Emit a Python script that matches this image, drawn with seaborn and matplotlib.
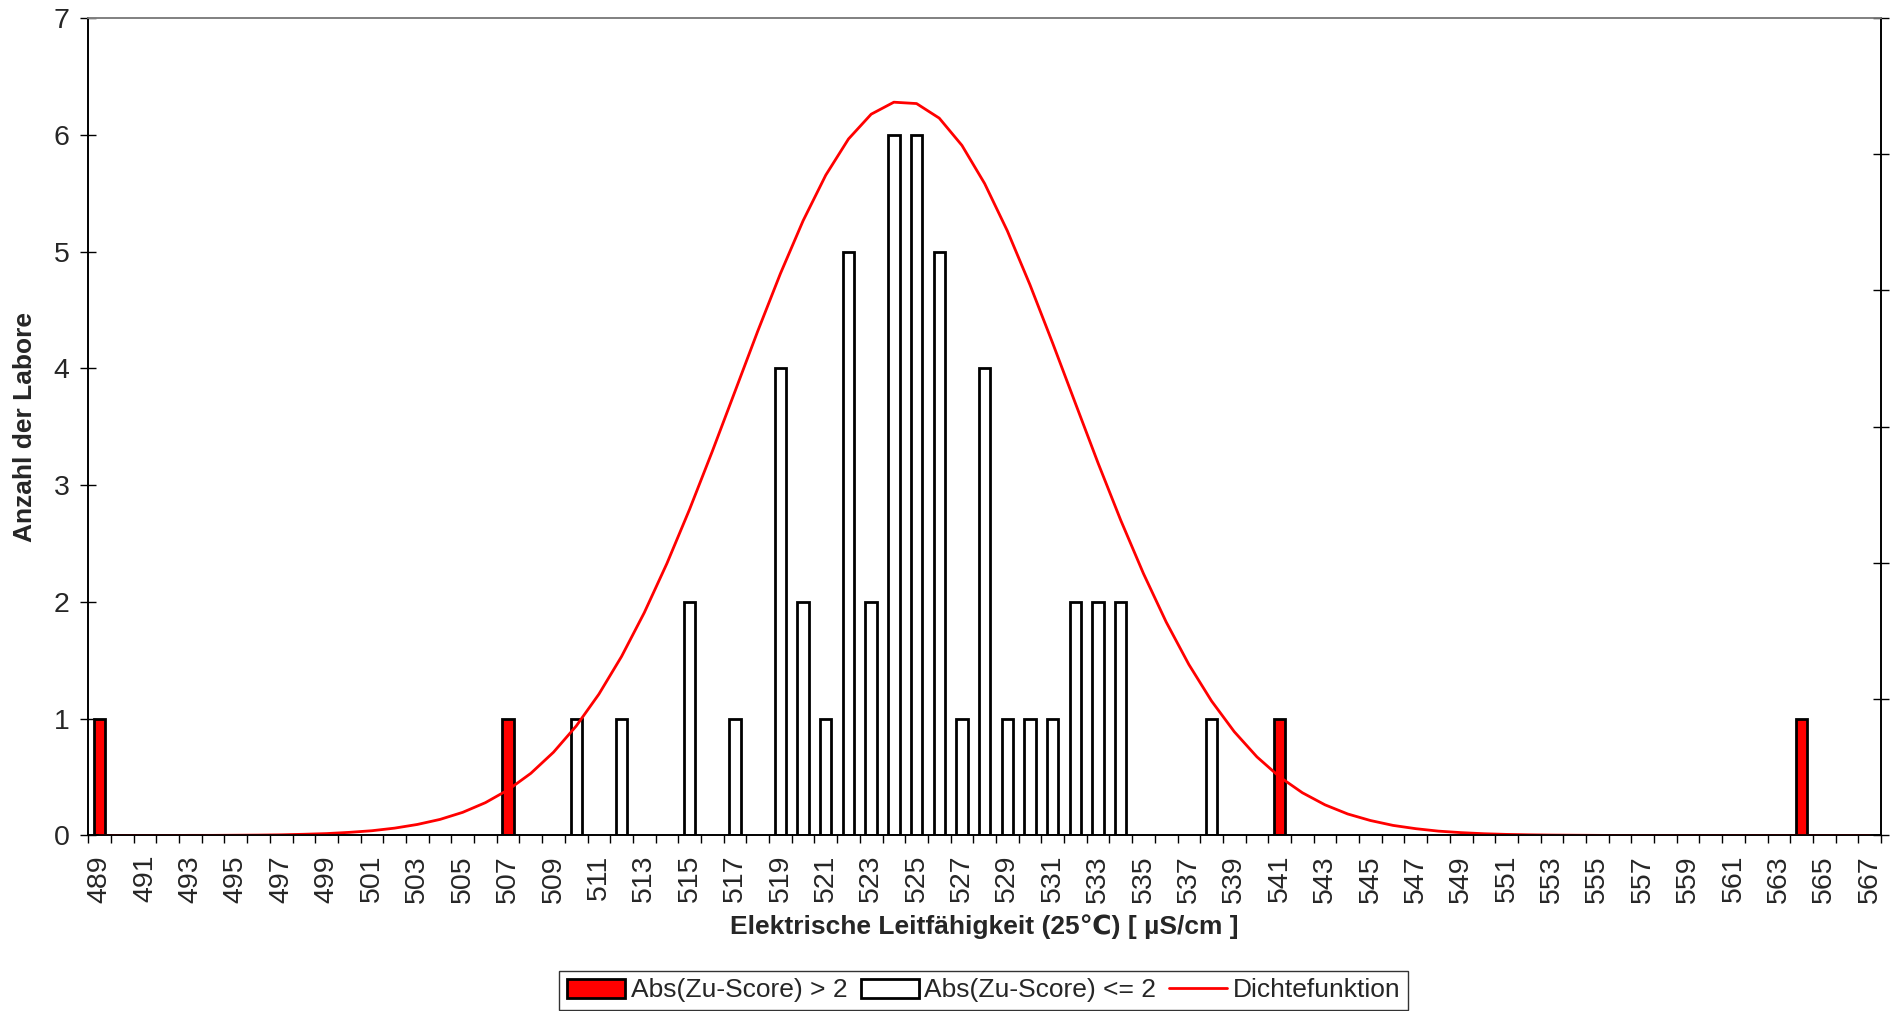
import matplotlib
matplotlib.use("Agg")
import matplotlib.pyplot as plt
from matplotlib.patches import Patch
from matplotlib.lines import Line2D
import numpy as np
import pandas as pd
import seaborn as sns

# categories on the x axis (one per µS/cm)
categories = list(range(489, 568))

# labs with |z-score| > 2
red_x = [489, 507, 541, 564]
red_n = [1, 1, 1, 1]

# labs with |z-score| <= 2
white_x = [510, 512, 515, 517, 519, 520, 521, 522, 523, 524, 525,
           526, 527, 528, 529, 530, 531, 532, 533, 534, 538]
white_n = [1, 1, 2, 1, 4, 2, 1, 5, 2, 6, 6, 5, 1, 4, 1, 1, 1, 2, 2, 2, 1]

# density curve, read at each category (secondary axis, 0 .. 0.06)
density = [
    0.0, 0.0, 0.0, 0.0, 0.00001, 0.00001,                 # 489-494
    0.00002, 0.00003, 0.00005, 0.00009, 0.00014,          # 495-499
    0.00023, 0.00035, 0.00054, 0.00081, 0.00118,          # 500-504
    0.00170, 0.00241, 0.00335, 0.00456, 0.00611,          # 505-509
    0.00803, 0.01037, 0.01314, 0.01635, 0.01997,          # 510-514
    0.02395, 0.02820, 0.03260, 0.03701, 0.04124,          # 515-519
    0.04512, 0.04847, 0.05112, 0.05294, 0.05382,          # 520-524
    0.05372, 0.05265, 0.05065, 0.04785, 0.04438,          # 525-529
    0.04041, 0.03613, 0.03172, 0.02733, 0.02313,          # 530-534
    0.01922, 0.01567, 0.01255, 0.00987, 0.00762,          # 535-539
    0.00577, 0.00430, 0.00314, 0.00225, 0.00158,          # 540-544
    0.00110, 0.00074, 0.00050, 0.00032, 0.00021,          # 545-549
    0.00013, 0.00008, 0.00005, 0.00003, 0.00002,          # 550-554
    0.00001, 0.0, 0.0, 0.0, 0.0, 0.0, 0.0,                # 555-561
    0.0, 0.0, 0.0, 0.0, 0.0, 0.0,                         # 562-567
]

label_red = "Abs(Zu-Score) > 2"
label_white = "Abs(Zu-Score) <= 2"
label_line = "Dichtefunktion"

sns.set_theme(style="white")
plt.rcParams["font.family"] = ["Liberation Sans", "DejaVu Sans"]

df = pd.DataFrame({
    "x": [str(v) for v in red_x + white_x],
    "n": red_n + white_n,
    "grp": [label_red] * len(red_x) + [label_white] * len(white_x),
})
order = [str(c) for c in categories]

fig = plt.figure(figsize=(18.99, 10.11), dpi=100)
ax = fig.add_axes([0.0465, 0.1736, 0.944, 0.8086])

sns.barplot(data=df, x="x", y="n", hue="grp", order=order,
            hue_order=[label_red, label_white],
            palette={label_red: "#FF0000", label_white: "white"},
            saturation=1, dodge=False, width=0.5, edgecolor="black",
            linewidth=2.0, errorbar=None, legend=False, ax=ax)

ax2 = ax.twinx()
sns.lineplot(x=np.arange(len(categories)), y=density, color="#FF0000",
             linewidth=2.0, ax=ax2)

n = len(categories)
ax.set_xlim(-0.5, n - 0.5)
ax.set_ylim(0, 7)
ax2.set_ylim(0, 0.06)

# x: labels every second category, ticks on category boundaries
ax.set_xticks(np.arange(0, n, 2))
ax.set_xticklabels([str(c) for c in categories[::2]], rotation=90)
ax.set_xticks(np.arange(-0.5, n, 1), minor=True)
ax.tick_params(axis="x", which="major", length=0, pad=14, labelsize=20.5)
ax.tick_params(axis="x", which="minor", length=6, width=1, direction="out",
               color="black", bottom=True)

ax.set_yticks(range(0, 8))
ax.tick_params(axis="y", which="major", length=11, width=1, direction="inout",
               pad=8, labelsize=20.5, color="black", left=True)
ax2.set_yticks(np.arange(0, 0.061, 0.01))
ax2.set_yticklabels([])
ax2.tick_params(axis="y", length=11, width=1, direction="inout",
                color="black", right=True)

for a in (ax, ax2):
    for side in ("left", "bottom", "right"):
        a.spines[side].set_color("black")
        a.spines[side].set_linewidth(1.2)
    a.spines["top"].set_color("#808080")
    a.spines["top"].set_linewidth(1.2)
ax2.set_ylabel("")

ax.set_xlabel("Elektrische Leitfähigkeit (25℃) [ µS/cm ]",
              fontsize=19, fontweight="bold")
ax.xaxis.set_label_coords(0.5, -0.111)
ax.xaxis.label.set_verticalalignment("center")
ax.set_ylabel("Anzahl der Labore", fontsize=19, fontweight="bold")
ax.yaxis.set_label_coords(-0.0353, 0.5)
ax.yaxis.label.set_verticalalignment("center")

handles = [
    Patch(facecolor="#FF0000", edgecolor="black", linewidth=2.0),
    Patch(facecolor="white", edgecolor="black", linewidth=2.0),
    Line2D([], [], color="#FF0000", linewidth=2.0),
]
leg = fig.legend(handles, [label_red, label_white, label_line],
                 loc="center", bbox_to_anchor=(0.518, 0.0203), ncol=3,
                 fontsize=19, frameon=True, fancybox=False,
                 handlelength=2.2, handleheight=0.75, handletextpad=0.2,
                 columnspacing=0.5, borderpad=0.3, borderaxespad=0)
leg.get_frame().set_edgecolor("black")
leg.get_frame().set_linewidth(1.0)

fig.savefig("out.png", dpi=100, facecolor="white")
